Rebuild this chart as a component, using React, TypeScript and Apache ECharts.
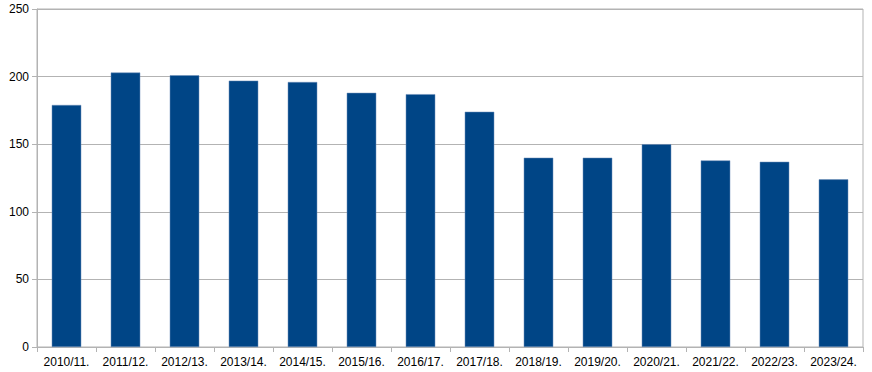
import React, { useEffect, useRef } from "react";
import * as echarts from "echarts";

const categories = [
  "2010/11.", "2011/12.", "2012/13.", "2013/14.", "2014/15.", "2015/16.", "2016/17.",
  "2017/18.", "2018/19.", "2019/20.", "2020/21.", "2021/22.", "2022/23.", "2023/24.",
];
const values = [179, 203, 201, 197, 196, 188, 187, 174, 140, 140, 150, 138, 137, 124];
const yMin = 0;
const yMax = 250;
const yInterval = 50;

export default function App() {
  const ref = useRef<HTMLDivElement>(null);
  useEffect(() => {
    document.body.style.margin = "0";
    const chart = echarts.init(ref.current!, null, { renderer: "svg" });
    chart.setOption({
      animation: false,
      backgroundColor: "#ffffff",
      textStyle: { fontFamily: "Liberation Sans" },
      grid: { left: 37, right: 9, top: 9, bottom: 25, containLabel: false, show: true, borderColor: "#b3b3b3", borderWidth: 1 },
      xAxis: {
        type: "category",
        data: categories,
        axisLine: { show: true, lineStyle: { color: "#b3b3b3" } },
        axisTick: { show: true, alignWithLabel: false, length: 5, lineStyle: { color: "#b3b3b3" } },
        axisLabel: { color: "#000", fontSize: 12, margin: 9, interval: 0, fontFamily: "Liberation Sans" },
        splitLine: { show: false },
      },
      yAxis: {
        type: "value",
        min: yMin,
        max: yMax,
        interval: yInterval,
        axisLine: { show: true, lineStyle: { color: "#b3b3b3" } },
        axisTick: { show: true, length: 5, lineStyle: { color: "#b3b3b3" } },
        axisLabel: { color: "#000", fontSize: 12, margin: 8, fontFamily: "Liberation Sans" },
        splitLine: { show: true, lineStyle: { color: "#b3b3b3", width: 1 } },
      },
      series: [
        {
          type: "bar",
          data: values,
          barWidth: "50%",
          itemStyle: { color: "#004586", borderColor: "#6f8fb8", borderWidth: 0.5 },
        },
      ],
    });
    return () => chart.dispose();
  }, []);
  return <div ref={ref} style={{ width: 872, height: 372 }} />;
}
